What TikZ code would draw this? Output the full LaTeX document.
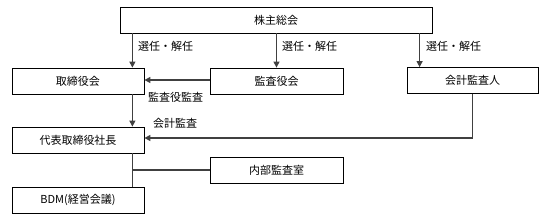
\documentclass[tikz,border=0pt]{standalone}
\usepackage{fontspec}
\newfontfamily\jpfont{Noto Sans CJK JP}
\usetikzlibrary{arrows.meta,positioning}

\begin{document}
\begin{tikzpicture}[x=1pt,y=-1pt,
  box/.style={draw=black, line width=0.8pt, minimum height=26pt, inner sep=0pt,
    font=\jpfont\fontsize{11}{13}\selectfont},
  link/.style={draw=black!75, line width=1.2pt},
  arr/.style={link, -{Triangle[width=6pt,length=6pt]}},
  lbl/.style={font=\jpfont\fontsize{11}{13}\selectfont, inner sep=0pt, anchor=west}]
\useasboundingbox (0,0) rectangle (547,220);
% boxes
\node[box, minimum width=312pt] (agm) at (276,20) {株主総会};
\node[box, minimum width=132pt] (board) at (78,81) {取締役会};
\node[box, minimum width=133pt] (kansa) at (276.5,81) {監査役会};
\node[box, minimum width=131pt] (kaikei) at (472.5,80.5) {会計監査人};
\node[box, minimum width=132pt] (ceo) at (78,140) {代表取締役社長};
\node[box, minimum width=133pt] (naibu) at (276.5,170) {内部監査室};
\node[box, minimum width=132pt] (bdm) at (78,200) {BDM(経営会議)};
% helper points
\coordinate (c1) at ([xshift=-12pt]board.north east);
\coordinate (c3) at ([xshift=13pt]kaikei.north west);
% election arrows
\draw[arr] (c1 |- agm.south) -- (c1);
\draw[arr] (kansa.north |- agm.south) -- (kansa.north);
\draw[arr] (c3 |- agm.south) -- (c3);
\node[lbl] (sen1) at (138,46) {選任・解任};
\node[lbl] (sen2) at (282,46) {選任・解任};
\node[lbl] (sen3) at (426,46) {選任・解任};
% audits
\draw[arr] ([yshift=1pt]kansa.west) -- ([yshift=1pt]board.east);
\node[lbl] (kansalbl) at (148,97) {監査役監査};
\draw[arr] (c1 |- board.south) -- (c1 |- ceo.north);
\draw[arr] (kaikei.south) |- ([yshift=2pt]ceo.east);
\node[lbl] (kaikeilbl) at (153,123) {会計監査};
% lower lines
\draw[link] (c1 |- ceo.south) -- (c1 |- bdm.north);
\draw[link] (c1 |- naibu.west) -- (naibu.west);
\end{tikzpicture}
\end{document}
